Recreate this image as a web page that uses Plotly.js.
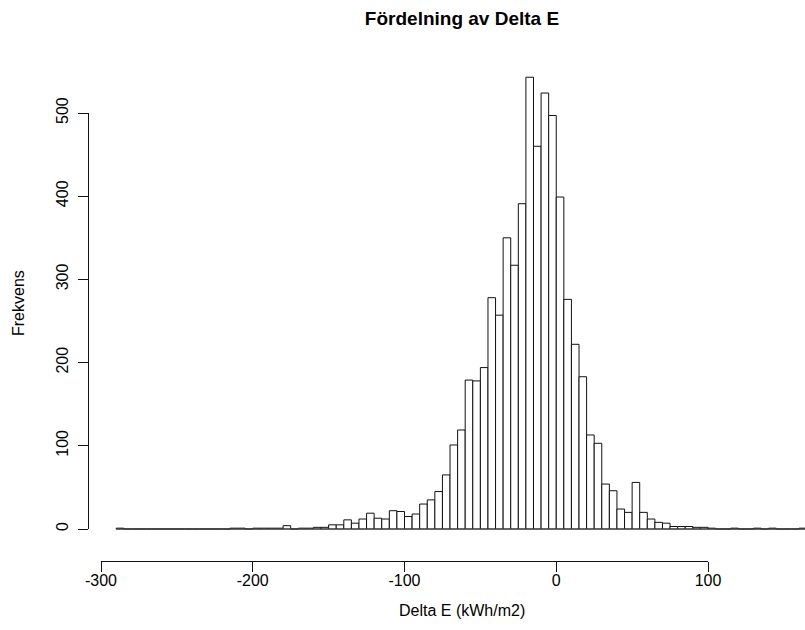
<!DOCTYPE html>
<html>
<head>
<meta charset="utf-8">
<script src="https://cdn.plot.ly/plotly-3.0.1.min.js"></script>
<style>html,body{margin:0;padding:0;background:#fff;}#chart{width:805px;height:630px;}</style>
</head>
<body>
<div id="chart"></div>
<script>
// Histogram of Delta E (kWh/m2), bins of width 5
const binWidth = 5;
const binLefts = [
  -290,-285,-280,-275,-270,-265,-260,-255,-250,-245,
  -240,-235,-230,-225,-220,-215,-210,-205,-200,-195,
  -190,-185,-180,-175,-170,-165,-160,-155,-150,-145,
  -140,-135,-130,-125,-120,-115,-110,-105,-100,-95,
  -90,-85,-80,-75,-70,-65,-60,-55,-50,-45,
  -40,-35,-30,-25,-20,-15,-10,-5,0,5,
  10,15,20,25,30,35,40,45,50,55,
  60,65,70,75,80,85,90,95,100,105,
  110,115,120,125,130,135,140,145,150,155,
  160
];
const counts = [
  1,0,0,0,0,0,0,0,0,0,
  0,0,0,0,0,1,1,0,1,1,
  1,1,4,0,1,1,2,2,5,5,
  11,7,12,19,13,12,22,21,15,18,
  30,35,45,65,101,119,179,178,194,278,
  257,350,317,391,543,460,524,497,399,276,
  222,183,113,103,54,46,24,20,56,20,
  12,8,7,3,3,3,2,2,1,0,
  0,1,0,0,1,0,1,0,0,0,
  1
];
const xTickVals = [-300,-200,-100,0,100];
const xTickText = ['-300','-200','-100','0','100'];
const yTickVals = [0,100,200,300,400,500];
const yTickText = ['0','100','200','300','400','500'];

const titleText = 'Fördelning av Delta E';
const xTitle = 'Delta E (kWh/m2)';
const yTitle = 'Frekvens';

const FONT = 'Liberation Sans, Arial, Helvetica, sans-serif';
const INK = '#111';

const centers = binLefts.map(l => l + binWidth / 2);
const firstEdge = binLefts[0];
const lastEdge = binLefts[binLefts.length - 1] + binWidth;

const traces = [
  { // baseline of empty bins
    type: 'scatter', mode: 'lines',
    x: [firstEdge, lastEdge], y: [0, 0],
    line: {color: '#444', width: 1},
    hoverinfo: 'skip', showlegend: false
  },
  {
    type: 'bar',
    x: centers, y: counts, width: binWidth,
    marker: {color: '#ffffff', line: {color: INK, width: 1}},
    showlegend: false
  },
  {type: 'scatter', x: [], y: [], xaxis: 'x2', yaxis: 'y', showlegend: false},
  {type: 'scatter', x: [], y: [], xaxis: 'x', yaxis: 'y2', showlegend: false}
];

const layout = {
  width: 805, height: 630,
  margin: {l: 88, r: 0, t: 50, b: 69, pad: 0},
  paper_bgcolor: '#fff', plot_bgcolor: 'rgba(0,0,0,0)',
  bargap: 0,
  showlegend: false,
  font: {family: FONT, size: 16, color: '#000'},
  title: {
    text: '<b>' + titleText + '</b>',
    font: {family: FONT, size: 19, color: '#000'},
    xref: 'container', yref: 'container',
    x: 462 / 805, y: 1 - 18 / 630, xanchor: 'center', yanchor: 'middle'
  },
  xaxis: {
    domain: [0, 1], range: [-308.57, 163.92],
    visible: false, fixedrange: true
  },
  yaxis: {
    domain: [0, 1], range: [-38.46, 575.72],
    visible: false, fixedrange: true
  },
  xaxis2: {
    domain: [13 / 717, 620 / 717], range: [-300, 100],
    anchor: 'free', position: 0,
    showline: true, linecolor: INK, linewidth: 1,
    ticks: 'outside', ticklen: 10, tickwidth: 1, tickcolor: INK,
    tickmode: 'array', tickvals: xTickVals, ticktext: xTickText,
    ticklabelstandoff: -5,
    tickfont: {family: FONT, size: 16, color: '#000'},
    showgrid: false, zeroline: false, fixedrange: true
  },
  yaxis2: {
    domain: [32 / 511, 448 / 511], range: [0, 500],
    anchor: 'free', position: 0,
    showline: true, linecolor: INK, linewidth: 1,
    ticks: 'outside', ticklen: 10, tickwidth: 1, tickcolor: INK,
    tickmode: 'array', tickvals: yTickVals, ticktext: yTickText,
    tickangle: -90, ticklabelstandoff: 4,
    tickfont: {family: FONT, size: 16, color: '#000'},
    showgrid: false, zeroline: false, fixedrange: true
  },
  annotations: [
    {
      text: xTitle, xref: 'paper', yref: 'paper',
      x: (462 - 88) / 717, y: (561 - 610) / 511,
      xanchor: 'center', yanchor: 'middle', showarrow: false,
      font: {family: FONT, size: 16, color: '#000'}
    },
    {
      text: yTitle, xref: 'paper', yref: 'paper',
      x: (18 - 88) / 717, y: (561 - 303) / 511,
      xanchor: 'center', yanchor: 'middle', showarrow: false,
      textangle: -90,
      font: {family: FONT, size: 16, color: '#000'}
    }
  ]
};

Plotly.newPlot('chart', traces, layout, {displayModeBar: false, staticPlot: true});
</script>
</body>
</html>
